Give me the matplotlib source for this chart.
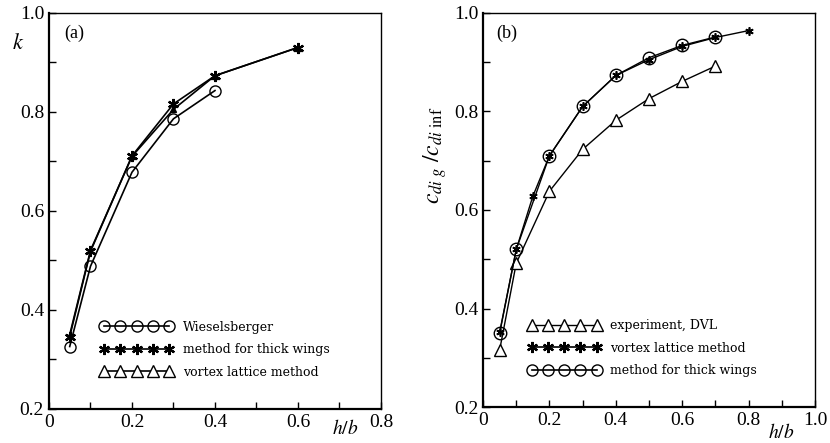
import numpy as np
import matplotlib
matplotlib.use("Agg")
import matplotlib.pyplot as plt
from matplotlib.ticker import MultipleLocator

plt.rcParams["font.family"] = ["Liberation Serif", "DejaVu Serif"]
plt.rcParams["mathtext.fontset"] = "stix"

# ---- panel (a): k vs h/b
a_hb_wies = [0.05, 0.1, 0.2, 0.3, 0.4]
a_k_wies = [0.326, 0.488, 0.678, 0.786, 0.843]
a_hb_thick = [0.05, 0.1, 0.2, 0.3, 0.4, 0.6]
a_k_thick = [0.346, 0.518, 0.711, 0.816, 0.873, 0.930]
a_hb_vlm = [0.05, 0.1, 0.2, 0.3, 0.4, 0.6]
a_k_vlm = [0.350, 0.520, 0.710, 0.805, 0.873, 0.930]

# ---- panel (b): c_di g / c_di inf vs h/b
b_hb_dvl = [0.05, 0.1, 0.2, 0.3, 0.4, 0.5, 0.6, 0.7]
b_c_dvl = [0.316, 0.492, 0.638, 0.723, 0.782, 0.826, 0.861, 0.892]
b_hb_vlm = [0.05, 0.1, 0.15, 0.2, 0.3, 0.4, 0.5, 0.6, 0.7, 0.8]
b_c_vlm = [0.352, 0.520, 0.628, 0.710, 0.810, 0.873, 0.905, 0.932, 0.950, 0.964]
b_hb_thick = [0.05, 0.1, 0.2, 0.3, 0.4, 0.5, 0.6, 0.7]
b_c_thick = [0.350, 0.520, 0.710, 0.810, 0.873, 0.909, 0.934, 0.951]

STAR = (6, 2, 0)
circ = dict(marker="o", ms=8, mfc="none", mec="black", mew=1.0)
star = dict(marker=STAR, ms=8, mec="black", mew=1.6)
tri = dict(marker="^", ms=8, mfc="white", mec="black", mew=1.0)


def style_axes(ax, xmax):
    ax.set_xlim(0, xmax)
    ax.set_ylim(0.2, 1.0)
    ax.xaxis.set_major_locator(MultipleLocator(0.2))
    ax.xaxis.set_minor_locator(MultipleLocator(0.1))
    ax.yaxis.set_major_locator(MultipleLocator(0.2))
    ax.yaxis.set_minor_locator(MultipleLocator(0.1))
    ax.tick_params(which="both", direction="in", length=5, width=1.0,
                   top=False, right=False, labelsize=14)
    ax.xaxis.set_major_formatter(lambda v, p: "0" if v == 0 else f"{v:.1f}")
    ax.yaxis.set_major_formatter(lambda v, p: f"{v:.1f}")
    for s in ("left", "bottom"):
        ax.spines[s].set_linewidth(1.6)
    for s in ("top", "right"):
        ax.spines[s].set_linewidth(1.0)


fig = plt.figure(figsize=(8.3, 4.43), dpi=100)
ax1 = fig.add_axes([0.059, 0.077, 0.400, 0.894])
ax2 = fig.add_axes([0.582, 0.081, 0.400, 0.890])

# panel (a)
ax1.plot(a_hb_wies, a_k_wies, color="black", lw=1.2, **circ, label="Wieselsberger")
ax1.plot(a_hb_thick, a_k_thick, color="black", lw=1.2, **star,
         label="method for thick wings")
ax1.plot(a_hb_vlm, a_k_vlm, color="black", lw=1.2, ms=4, marker="^",
         mfc="black", mec="black", label="vortex lattice method")
style_axes(ax1, 0.8)
h, l = ax1.get_legend_handles_labels()
h[2] = plt.Line2D([], [], color="black", lw=1.2, **tri)
ax1.legend(h, l, loc="upper left", bbox_to_anchor=(0.14, 0.235), frameon=False,
           numpoints=5, handlelength=5.8, handletextpad=0.8, labelspacing=0.75,
           borderaxespad=0, prop={"family": "DejaVu Serif", "size": 9})
ax1.text(0.045, 0.97, "(a)", transform=ax1.transAxes, fontsize=13, va="top")
fig.text(0.014, 0.89, "$k$", fontsize=16)
fig.text(0.400, 0.02, "$h/b$", fontsize=14)

# panel (b)
ax2.plot(b_hb_dvl, b_c_dvl, color="black", lw=1.0, **tri, label="experiment, DVL")
ax2.plot(b_hb_vlm, b_c_vlm, color="black", lw=1.0, ms=6, marker=STAR,
         mec="black", mew=1.2, label="vortex lattice method")
ax2.plot(b_hb_thick, b_c_thick, color="black", lw=1.0, marker="o", ms=9,
         mfc="none", mec="black", mew=1.0, label="method for thick wings")
style_axes(ax2, 1.0)
ax2.set_xticks([0, 0.2, 0.4, 0.6, 0.8, 1.0])
h, l = ax2.get_legend_handles_labels()
h[1] = plt.Line2D([], [], color="black", lw=1.2, **star)
h[2] = plt.Line2D([], [], color="black", lw=1.2, **circ)
ax2.legend(h, l, loc="upper left", bbox_to_anchor=(0.12, 0.235), frameon=False,
           numpoints=5, handlelength=5.8, handletextpad=0.8, labelspacing=0.75,
           borderaxespad=0, prop={"family": "DejaVu Serif", "size": 9})
ax2.text(0.04, 0.97, "(b)", transform=ax2.transAxes, fontsize=13, va="top")
fig.text(0.508, 0.56, r"$c_{di\ g}\ /c_{di\ \mathrm{inf}}$", fontsize=17,
         rotation=90)
fig.text(0.925, 0.012, "$h/b$", fontsize=14)

fig.savefig("out.png", dpi=100)
